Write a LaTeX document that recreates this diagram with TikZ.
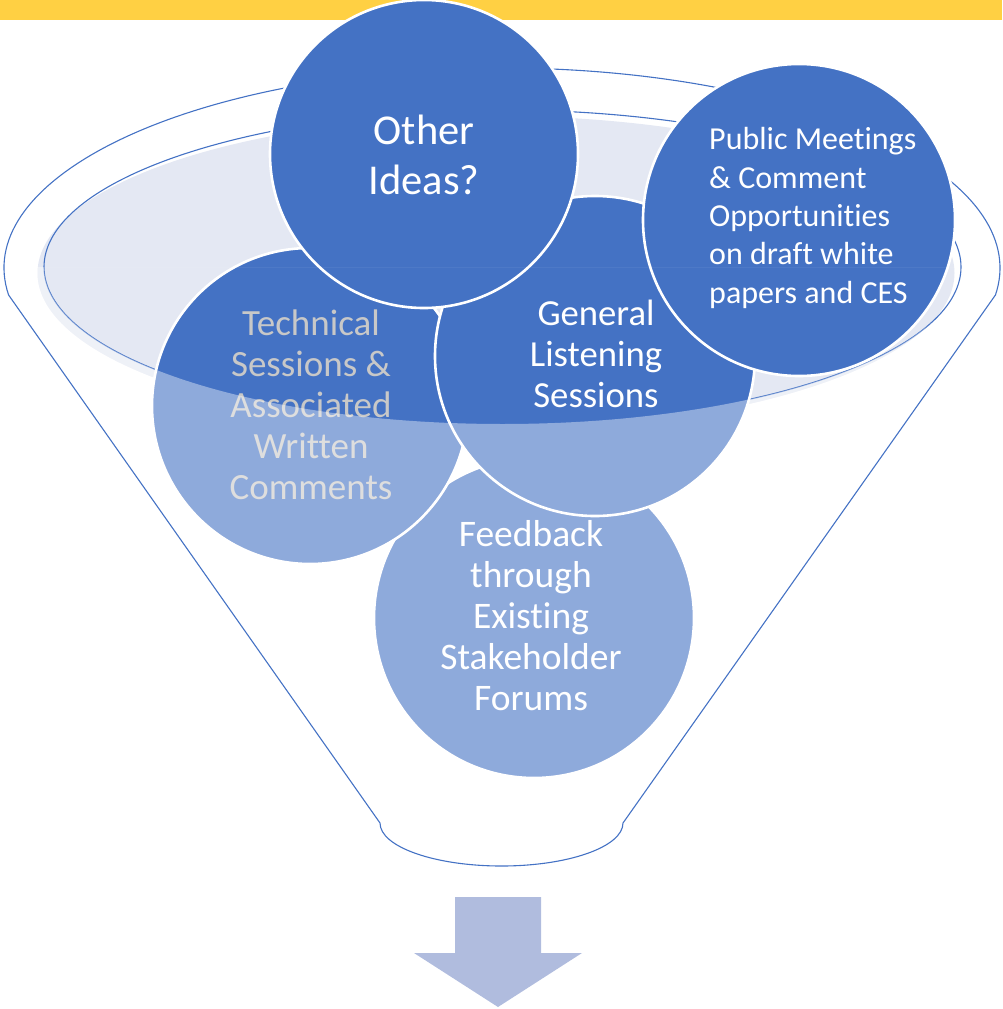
\documentclass[tikz,border=0pt]{standalone}
\usepackage{fontspec}
\setmainfont[Ligatures=NoCommon]{Carlito}
\definecolor{blu}{HTML}{4472C4}
\definecolor{yel}{HTML}{FFD043}
\definecolor{rimfill}{HTML}{E4E8F3}
\definecolor{arr}{HTML}{B0BCDE}
\definecolor{tgray}{HTML}{C8C8C8}
\begin{document}
\begin{tikzpicture}[x=1pt,y=-1pt,
  funline/.style={draw=blu, line width=1.1pt},
  bub/.style={circle, fill=blu, draw=white, line width=2.6pt, minimum size=#1, inner sep=0pt},
  txt/.style={text=white, align=center, inner sep=0pt}]
\useasboundingbox (0,0) rectangle (1002,1009);
% top bar
\fill[yel] (0,0) rectangle (1002,20);
% funnel outline
\draw[funline, line join=round] (8.6,295) arc[start angle=187.76, end angle=-7.76, x radius=498pt, y radius=200pt]
  -- (623,823) arc[start angle=0, end angle=-180, x radius=121.5pt, y radius=43pt] -- cycle;
% inner rim
\fill[rimfill] (496,273) ellipse[x radius=458.5pt, y radius=157pt];
\draw[funline] (502.5,267) ellipse[x radius=458.5pt, y radius=157pt];
% circles, bottom to top
\node[bub=320pt] (feed) at (534,618) {};
\node[txt, font=\fontsize{37.5}{41}\selectfont] (feedT) at (531,616) {Feedback\\through\\Existing\\Stakeholder\\Forums};
\node[bub=316pt] (tech) at (310,406) {};
\node[txt, text=tgray, font=\fontsize{37}{41}\selectfont] (techT) at (311,405) {Technical\\Sessions \&\\Associated\\Written\\Comments};
\node[bub=320pt] (gen) at (595,356) {};
\node[txt, font=\fontsize{36.7}{41}\selectfont] (genT) at (596,354) {General\\Listening\\Sessions};
\node[bub=308pt] (oth) at (424,154) {};
\node[txt, font=\fontsize{42.5}{50}\selectfont] (othT) at (424,155) {Other\\Ideas?};
\node[bub=312pt] (pub) at (799,220) {};
\node[txt, align=left, anchor=west, font=\fontsize{32}{38.3}\selectfont] (pubT) at (709,218) {Public Meetings\\\& Comment\\Opportunities\\on draft white\\papers and CES};
% translucent front of the funnel
\begin{scope}
  \clip (feed.center) circle[radius=161.5pt] (tech.center) circle[radius=159.5pt]
        (gen.center) circle[radius=161.5pt] (496,273) ellipse[x radius=458.5pt, y radius=157pt];
  \clip (0,267) rectangle (1002,900);
  \fill[white, fill opacity=0.4, even odd rule] (0,267) rectangle (1002,900)
        (502.5,267) ellipse[x radius=458.5pt, y radius=157pt];
\end{scope}
% arrow
\fill[arr] (455,897) -- (541,897) -- (541,953) -- (582,953) -- (498,1007) -- (414,953) -- (455,953) -- cycle;
\end{tikzpicture}
\end{document}
